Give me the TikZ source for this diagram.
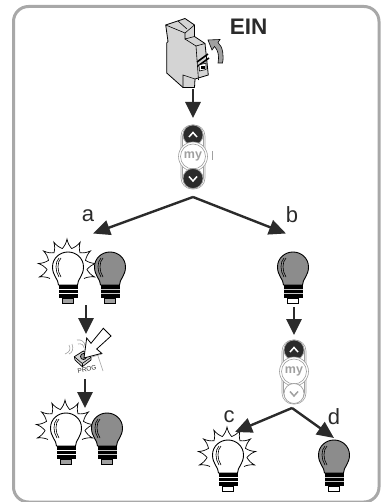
\documentclass[tikz,border=0pt]{standalone}
\usepackage{fontspec}
\setmainfont{Liberation Sans}
\usetikzlibrary{arrows.meta}
\usetikzlibrary{calc}

\definecolor{framegray}{HTML}{A8A8A8}
\definecolor{bulbgray}{HTML}{8C8C8C}
\definecolor{ink}{HTML}{2B2B2B}
\definecolor{softgray}{HTML}{A0A0A0}
\definecolor{bodygray}{HTML}{D4D4D4}

\tikzset{
    bigarrow/.style={draw=ink,line width=2.8pt,-{Triangle[length=16pt,width=15pt,fill=ink]}},
    slantarrow/.style={draw=ink,line width=2.4pt,-{Triangle[length=17pt,width=15pt,fill=ink]}},
    letter/.style={text=ink,font=\fontsize{22}{22}\selectfont,inner sep=0pt},
    pics/rays/.style={code={
        \begin{scope}[shift={(-1,16)}]
            \draw[line width=0.7pt,fill=white,line join=miter] (-211.5:20)
                foreach \k in {-4,...,4} { to[bend right=14] (-90+\k*27:29) to[bend right=14] (-90+\k*27+13.5:20) };
        \end{scope}
    }},
    pics/bulb/.style 2 args={code={
        \draw[line width=0.9pt,fill=#1] (-9.5,33) .. controls (-9.5,27) and (-15.5,24) .. (-15.5,15)
            .. controls (-15.5,6) and (-8,0) .. (0,0) .. controls (8,0) and (15.5,6) .. (15.5,15)
            .. controls (15.5,24) and (9.5,27) .. (9.5,33) -- cycle;
        \draw[line width=0.6pt] (-9,6) .. controls (-13,10) and (-13,19) .. (-9,25);
        \draw[line width=0.6pt] (-7,6) .. controls (-11,10) and (-11,19) .. (-7,25);
        \fill[black] (-9.5,33) rectangle (9.5,46);
        \foreach \y in {37,41.5} { \draw[#1!50!white,line width=0.5pt] (-9.5,\y) -- (9.5,\y); }
        \draw[line width=0.8pt,fill=#2] (-5.5,46) rectangle (5.5,51);
    }},
    pics/remote/.style 2 args={code={
        \draw[softgray,line width=0.6pt,rounded corners=11pt] (-12,-10) rectangle (12,54);
        \draw[softgray,line width=0.6pt,rounded corners=10pt] (-10.5,-8.5) rectangle (10.5,52.5);
        \draw[softgray,line width=0.7pt,fill=ink] (0,0) circle (10);
        \draw[white,line width=1.5pt] (-4,2) -- (0,-2.5) -- (4,2);
        \draw[softgray,line width=0.6pt,fill=white] (0,21.5) circle (14.5);
        \draw[softgray,line width=0.6pt] (0,21.5) circle (12.5);
        \node[text=softgray,font=\bfseries\fontsize{12.5}{12.5}\selectfont,inner sep=0pt] (mylabel) at (0,21) {my};
        \draw[softgray,line width=0.7pt,fill=#1] (0,43.5) circle (10);
        \draw[#2,line width=1.5pt] (-4,41.5) -- (0,46) -- (4,41.5);
    }}
}

\begin{document}
\begin{tikzpicture}[x=1pt,y=-1pt]
    \useasboundingbox (0,0) rectangle (380,502);

    % frame
    \draw[framegray,line width=3pt,rounded corners=15pt] (13.5,6.5) rectangle (379,502);

    % breaker
    \draw[line width=0.8pt,fill=bodygray,line join=round] (165.7,25) -- (185,18.5) -- (194.5,25) -- (194.5,36.5)
        -- (205,43.5) -- (208.3,75) -- (195,79) -- (194.5,87.5) -- (183,87.5) -- (166.7,73)
        -- (166.7,43) -- (168,41.5) -- cycle;
    \draw[line width=0.6pt] (165.7,25) -- (185,33) -- (194.5,25);
    \draw[line width=0.6pt] (178,21) -- (187,29);
    \draw[line width=0.6pt] (185,33) -- (185,39) -- (194.5,36.5);
    \draw[line width=0.6pt] (185,39) -- (196,46) -- (205,43.5);
    \draw[line width=0.6pt] (196,46) -- (198.5,80);
    \draw[line width=0.6pt] (183,87.5) -- (183,75) -- (195,79);
    \draw[line width=1.6pt] (197,62) -- (208,54);
    \draw[line width=1.6pt] (198,66) -- (209,58);
    \draw[line width=0.6pt,fill=white] (199,65) -- (206,63) -- (206,69.5) -- (199.5,71) -- cycle;
    \fill[black] (200.5,66.5) rectangle (204.5,69);

    % curved arrow of the breaker
    \draw[line width=0.6pt,fill=softgray] (218,63) .. controls (219.5,56) and (218,50) .. (214.5,46.5)
        -- (212,50) -- (208,40) -- (220,39.5) -- (218,42.5) .. controls (223,47) and (224,56) .. (222.5,63) -- cycle;

    \node[letter,font=\bfseries\fontsize{22.5}{22.5}\selectfont] (ein) at (248.5,27) {EIN};

    % remotes
    \pic at (193,135) {remote={ink}{white}};
    \draw[softgray,line width=0.6pt] (212.5,151) -- (212.5,160);
    \pic at (294,350) {remote={white}{softgray}};

    % bulbs
    \pic at (68,252) {rays};
    \pic at (68,252) {bulb={white}{softgray}};
    \pic at (110,252) {bulb={bulbgray}{softgray}};
    \pic at (66,413) {rays};
    \pic at (66,413) {bulb={white}{softgray}};
    \pic at (107,413) {bulb={bulbgray}{softgray}};
    \pic at (293,252) {bulb={bulbgray}{white}};
    \pic at (228,440) {rays};
    \pic at (228,440) {bulb={white}{white}};
    \pic at (334,440) {bulb={bulbgray}{white}};

    % prog button
    \draw[softgray,line width=0.6pt] (69,345) .. controls (71,349) and (70,352) .. (65,354);
    \draw[softgray,line width=0.6pt] (72,344) .. controls (74,349) and (72,353) .. (69,354);
    \draw[softgray,line width=0.6pt] (77,340) .. controls (81,339) and (85,342) .. (85,346);
    \draw[softgray,line width=0.6pt] (78,344) .. controls (81,343) and (84,345) .. (84,348);
    \draw[line width=0.7pt,fill=bodygray,line join=round] (74.3,356.7) -- (83.3,351) -- (91,357.3) -- (91,360)
        -- (82.3,366.7) -- (75,360) -- cycle;
    \draw[line width=0.6pt] (74.3,356.7) -- (82.3,363.5) -- (91,357.3);
    \draw[line width=0.6pt] (82.3,363.5) -- (82.3,366.7);
    \draw[line width=0.8pt,fill=softgray] (83.5,356.5) circle (3);
    \draw[softgray,line width=0.6pt] (97,353) -- (103,371);
    \draw[softgray,line width=0.6pt] (92,357) -- (102,354);
    \draw[line width=0.8pt,fill=white,line join=miter] (84,358) -- (86.7,338) -- (91,343.3) -- (103.3,328.3)
        -- (111,336) -- (96.7,349) -- (101.7,353.3) -- cycle;
    \node[text=ink,font=\fontsize{6.5}{6.5}\selectfont,inner sep=0pt,rotate=12] (proglabel) at (87,369.5) {PROG};

    % connectors
    \coordinate (breakerout) at (193,89);
    \coordinate (remotein) at (193,118);
    \coordinate (splitab) at (193,197);
    \coordinate (bulba) at (93,233.5);
    \coordinate (bulbb) at (286,233.5);
    \coordinate (aout) at (86,305);
    \coordinate (progin) at (86,334);
    \coordinate (progout) at (85,379);
    \coordinate (ain) at (85,408);
    \coordinate (bout) at (294,307);
    \coordinate (remotebin) at (294,335);
    \coordinate (splitcd) at (292,408);
    \coordinate (bulbc) at (235,432);
    \coordinate (bulbd) at (334,438);

    \draw[bigarrow] (breakerout) -- (remotein);
    \draw[slantarrow] (splitab) -- (bulba);
    \draw[slantarrow] (splitab) -- (bulbb);
    \draw[bigarrow] (aout) -- (progin);
    \draw[bigarrow] (progout) -- (ain);
    \draw[bigarrow] (bout) -- (remotebin);
    \draw[slantarrow] (splitcd) -- (bulbc);
    \draw[slantarrow] (splitcd) -- (bulbd);

    % letters
    \node[letter] (lettera) at (88,216) {a};
    \node[letter] (letterb) at (292,215) {b};
    \node[letter] (letterc) at (229,417) {c};
    \node[letter] (letterd) at (334,417) {d};
\end{tikzpicture}
\end{document}
